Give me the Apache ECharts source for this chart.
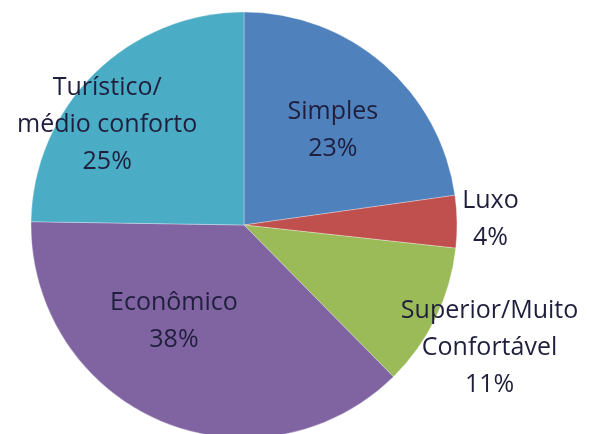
<!DOCTYPE html>
<html>
<head>
<meta charset="utf-8">
<script src="https://cdn.jsdelivr.net/npm/echarts@6/dist/echarts.min.js"></script>
<style>
  html, body { margin: 0; padding: 0; background: #fff; }
  #chart { width: 589px; height: 434px; }
</style>
</head>
<body>
<div id="chart"></div>
<script>
// categories clockwise from 12 o'clock
const categories = ['Simples', 'Luxo', 'Superior/Muito\nConfortável', 'Econômico', 'Turístico/\nmédio conforto'];
const shares = [23, 4, 11, 38, 25];
const colors = ['#4F81BD', '#C0504D', '#9BBB59', '#8064A2', '#4BACC6'];
// label nudges away from the default inner spot
const labelOffsets = [[17, -12], [137, -4], [147, 75], [-27, -4], [-60, -22]];

const chart = echarts.init(document.getElementById('chart'));

chart.setOption({
  backgroundColor: '#fff',
  animation: false,
  series: [{
    type: 'pie',
    center: [244, 225],
    radius: [0, 213],
    startAngle: 90,
    clockwise: true,
    avoidLabelOverlap: false,
    itemStyle: { borderColor: 'rgba(255,255,255,0.5)', borderWidth: 0.6 },
    label: {
      show: true,
      position: 'inside',
      formatter: p => p.name + '\n' + p.value + '%',
      fontFamily: 'Open Sans',
      fontSize: 25,
      lineHeight: 37,
      color: '#1f1f3d',
      align: 'center'
    },
    labelLine: { show: false },
    data: categories.map((c, i) => ({
      name: c,
      value: shares[i],
      itemStyle: { color: colors[i] },
      label: { offset: labelOffsets[i] }
    }))
  }]
});

window.addEventListener('resize', () => chart.resize());
</script>
</body>
</html>
